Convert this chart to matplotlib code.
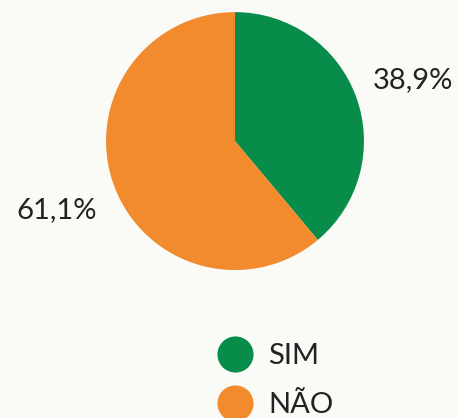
import matplotlib.pyplot as plt
from matplotlib.lines import Line2D

categories = ["SIM", "NÃO"]
values = [38.9, 61.1]
colors = ["#078c4a", "#f28a2e"]

plt.rcParams["font.family"] = ["Lato", "DejaVu Sans"]

fig = plt.figure(figsize=(4.59, 4.18), dpi=100)
fig.patch.set_facecolor("#fafaf6")

# pie axes: centre ~(235,141) px, radius ~129 px
ax = fig.add_axes([0.231, 0.354, 0.562, 0.617])
labels = [f"{v:.1f}%".replace(".", ",") for v in values]
wedges, texts = ax.pie(
    values, colors=colors, startangle=90, counterclock=False,
    labels=labels, labeldistance=1.47,
    textprops=dict(fontsize=21, color="#222222"),
)
for t in texts:
    t.set_horizontalalignment("center")
    t.set_verticalalignment("center")
    x, y = t.get_position()
    t.set_position((x, y - 0.03))
ax.set_aspect("equal")
ax.set_xlim(-1, 1)
ax.set_ylim(-1, 1)

handles = [Line2D([], [], marker="o", linestyle="none", markersize=25,
                  markerfacecolor=c, markeredgecolor=c) for c in colors]
fig.legend(handles, categories, loc="upper left",
           bbox_to_anchor=(0.473, 0.18), frameon=False,
           fontsize=21, labelcolor="#222222",
           handletextpad=0.55, labelspacing=0.8, handlelength=1.2,
           borderaxespad=0, borderpad=0)

fig.savefig("out.png", dpi=100, facecolor=fig.get_facecolor())
